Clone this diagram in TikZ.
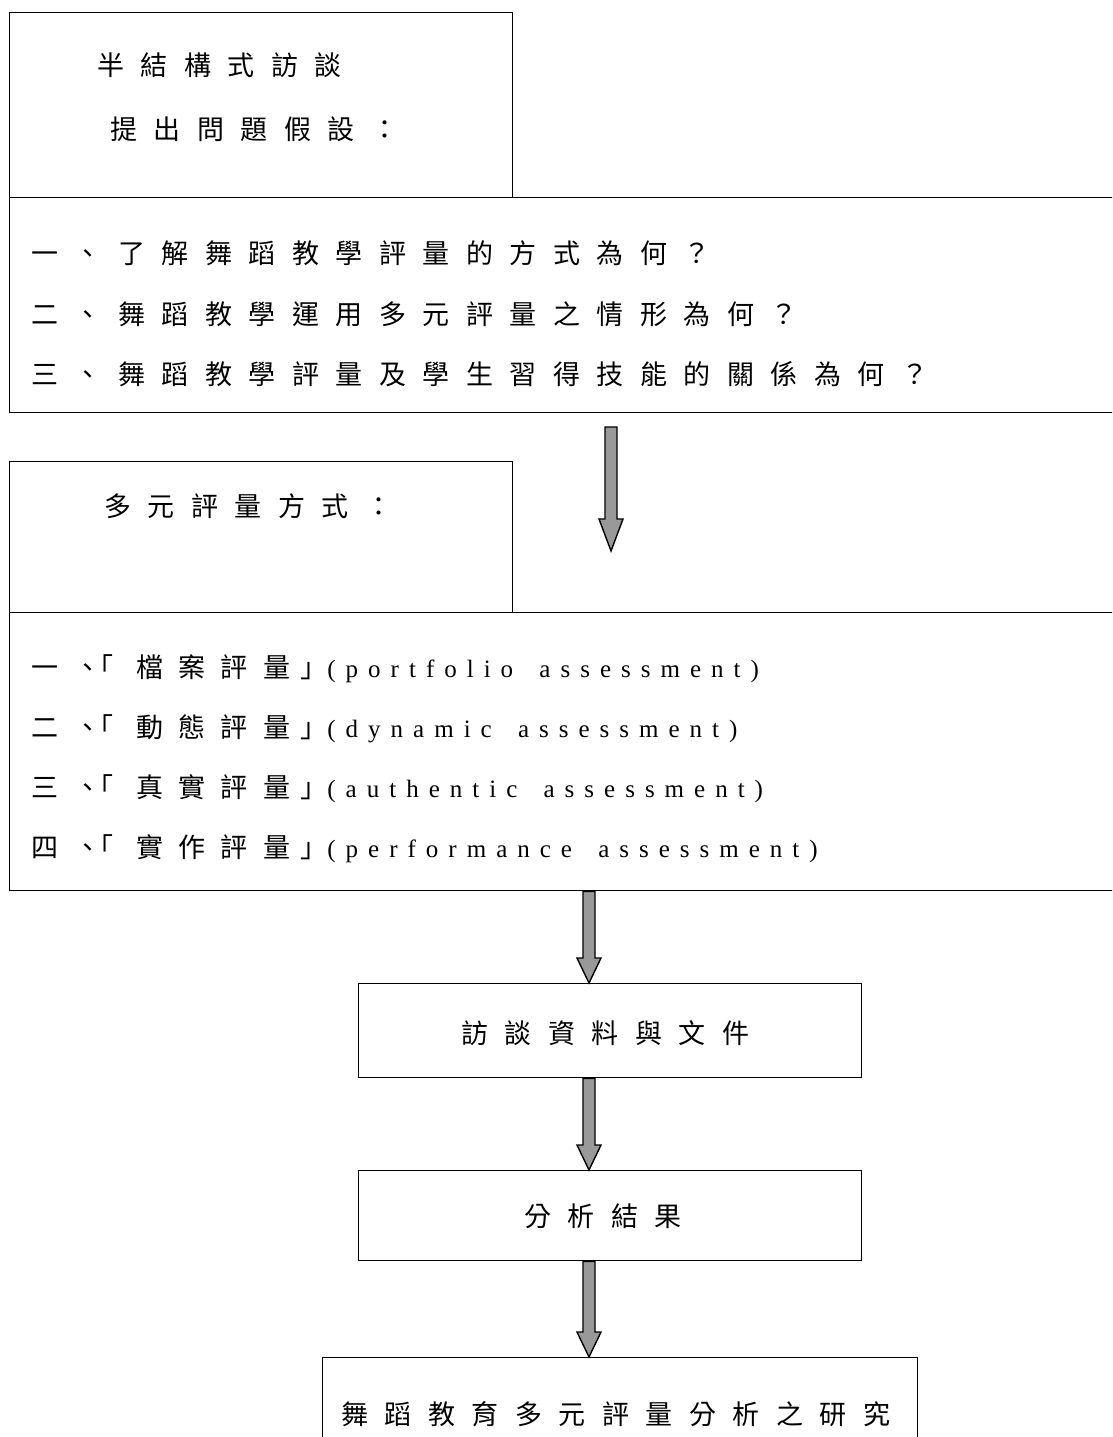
\documentclass[tikz,border=0pt]{standalone}
\usepackage{fontspec}
\setmainfont{Noto Sans CJK TC}
\newfontfamily\latf{Liberation Serif}
\usetikzlibrary{calc}
\definecolor{arrowgray}{RGB}{153,153,153}
\newlength\cjkpitch \setlength\cjkpitch{43.5pt}
\newlength\latgap \setlength\latgap{10pt}
\makeatletter
\def\cjkrow#1{\cjk@row#1\relax}
\def\cjk@row#1{\ifx#1\relax\else\makebox[\cjkpitch][l]{#1}\expandafter\cjk@row\fi}
\def\latrow#1{{\latf\fontsize{25}{29}\selectfont\lat@row#1\relax}}
\def\lat@row#1{\ifx#1\relax\else#1\kern\latgap\expandafter\lat@row\fi}
\makeatother
\newcommand\blockarrow[3]{\draw[blockarr] let \p1=(#1), \p2=(#2) in
  (\x1-6pt,\y1) -- (\x1+6pt,\y1) -- (\x1+6pt,\y2+#3) -- (\x1+12pt,\y2+#3)
  -- (\x2,\y2) -- (\x1-12pt,\y2+#3) -- (\x1-6pt,\y2+#3) -- cycle;}
\newcommand\bracketrow[2]{\makebox[43pt][l]{#1}\makebox[12pt][l]{、}\makebox[50pt][l]{「}{\setlength\cjkpitch{42.3pt}\cjkrow{#2}}\makebox[22pt][l]{\hspace{-5pt}」}}
\begin{document}
\begin{tikzpicture}[x=1pt,y=-1pt,
  box/.style={draw=black, line width=1.4pt, anchor=north west, inner sep=0pt, fill=none},
  txt/.style={anchor=base west, inner sep=0pt, font=\fontsize{27}{31}\selectfont},
  blockarr/.style={draw=black, line width=1.4pt, fill=arrowgray, line join=miter}]
\useasboundingbox (0,0) rectangle (1112,1437);
\clip (0,0) rectangle (1112,1437);
% boxes
\node[box, minimum width=503pt, minimum height=185pt] (b1) at (9,12) {};
\node[box, minimum width=1300pt, minimum height=215pt] (b2) at (9,197) {};
\node[box, minimum width=503pt, minimum height=151pt] (b3) at (9,461) {};
\node[box, minimum width=1300pt, minimum height=278pt] (b4) at (9,612) {};
\node[box, minimum width=503pt, minimum height=94pt] (b5) at (358,983) {};
\node[box, minimum width=503pt, minimum height=90pt] (b6) at (358,1170) {};
\node[box, minimum width=595pt, minimum height=200pt] (b7) at (322,1357) {};
% texts
\node[txt] (t1a) at (97,75) {\cjkrow{半結構式訪談}};
\node[txt] (t1b) at (110,139) {\cjkrow{提出問題假設：}};
\node[txt] (t2a) at (31,263) {\cjkrow{一、了解舞蹈教學評量的方式為何？}};
\node[txt] (t2b) at (31,324) {\cjkrow{二、舞蹈教學運用多元評量之情形為何？}};
\node[txt] (t2c) at (31,384) {\cjkrow{三、舞蹈教學評量及學生習得技能的關係為何？}};
\node[txt] (t3) at (104,516) {\cjkrow{多元評量方式：}};
\node[txt] (t4a) at (31,677) {\bracketrow{一}{檔案評量}\latrow{(portfolio~assessment)}};
\node[txt] (t4b) at (31,737) {\bracketrow{二}{動態評量}\latrow{(dynamic~assessment)}};
\node[txt] (t4c) at (31,797) {\bracketrow{三}{真實評量}\latrow{(authentic~assessment)}};
\node[txt] (t4d) at (31,857) {\bracketrow{四}{實作評量}\latrow{(performance~assessment)}};
\node[txt] (t5) at (461,1043) {\cjkrow{訪談資料與文件}};
\node[txt] (t6) at (524,1226) {\cjkrow{分析結果}};
\node[txt] (t7) at (341,1424) {\cjkrow{舞蹈教育多元評量分析之研究}};
% arrows
\coordinate (a1s) at (611,427);
\coordinate (a1e) at (611,551);
\coordinate (a2s) at (b4.south west -| 589,0);
\coordinate (a2e) at (b5.north west -| 589,0);
\coordinate (a3s) at (b5.south west -| 589,0);
\coordinate (a3e) at (b6.north west -| 589,0);
\coordinate (a4s) at (b6.south west -| 589,0);
\coordinate (a4e) at (b7.north west -| 589,0);
\blockarrow{a1s}{a1e}{32pt}
\blockarrow{a2s}{a2e}{25pt}
\blockarrow{a3s}{a3e}{25pt}
\blockarrow{a4s}{a4e}{25pt}
\end{tikzpicture}
\end{document}
